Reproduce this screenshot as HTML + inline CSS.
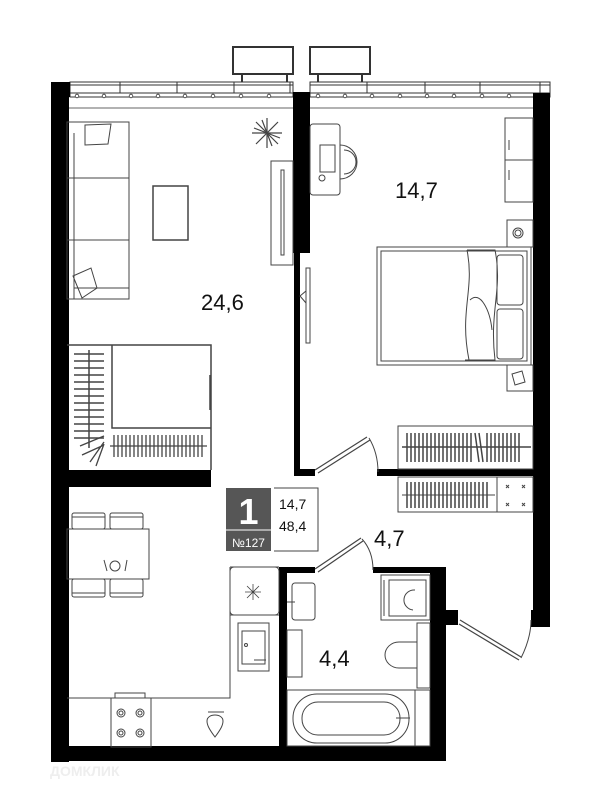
<!DOCTYPE html>
<html><head><meta charset="utf-8"><style>
html,body{margin:0;padding:0;background:#fff;}
svg{display:block;}
text{font-family:"Liberation Sans",sans-serif;}
</style></head><body>
<svg width="600" height="795" viewBox="0 0 600 795" xmlns="http://www.w3.org/2000/svg">
<g fill="none" stroke="#333" stroke-width="1">
<!-- balconies -->
<rect x="233" y="47" width="60" height="27" stroke-width="2"/>
<rect x="310" y="47" width="60" height="27" stroke-width="2"/>
<path d="M242 74V82M287 74V82M318 74V82M362 74V82" stroke-width="2"/>
<!-- window strips -->
<rect x="70" y="82" width="223" height="15"/>
<rect x="310" y="82" width="240" height="15"/>
<path d="M70 85H293M310 85H550M70 93H293M310 93H550M120 82v11M177 82v11M234 82v11M290 82v11M367 82v11M425 82v11M480 82v11M540 82v11"/>
<path d="M67 108H293M310 108H533" stroke-width="0.8"/>
</g>
<g fill="#fff" stroke="#333" stroke-width="0.8">
<circle cx="77" cy="96" r="1.8"/><circle cx="104" cy="96" r="1.8"/><circle cx="131" cy="96" r="1.8"/><circle cx="158" cy="96" r="1.8"/><circle cx="185" cy="96" r="1.8"/><circle cx="213" cy="96" r="1.8"/><circle cx="241" cy="96" r="1.8"/><circle cx="269" cy="96" r="1.8"/>
<circle cx="318" cy="96" r="1.8"/><circle cx="345" cy="96" r="1.8"/><circle cx="372" cy="96" r="1.8"/><circle cx="400" cy="96" r="1.8"/><circle cx="427" cy="96" r="1.8"/><circle cx="454" cy="96" r="1.8"/><circle cx="482" cy="96" r="1.8"/><circle cx="509" cy="96" r="1.8"/>
</g>
<!-- walls -->
<g fill="#000">
<rect x="51" y="82" width="18" height="680"/>
<rect x="51" y="82" width="19" height="15"/>
<rect x="293" y="92" width="17" height="161"/>
<rect x="294" y="253" width="6" height="223"/>
<rect x="294" y="469" width="21" height="7"/>
<rect x="377" y="469" width="173" height="7"/>
<rect x="533" y="93" width="17" height="534"/>
<rect x="531" y="610" width="19" height="17"/>
<rect x="51" y="470" width="160" height="17"/>
<rect x="51" y="746" width="395" height="15"/>
<rect x="279" y="567" width="8" height="190"/>
<rect x="279" y="567" width="36" height="6"/>
<rect x="373" y="567" width="64" height="6"/>
<rect x="430" y="567" width="16" height="194"/>
<rect x="430" y="610" width="28" height="15"/>
</g>
<g fill="none" stroke="#444" stroke-width="1">
<!-- living room -->
<rect x="67" y="122" width="62" height="177"/>
<path d="M74 133V299M67 178H129M67 240H129M74 288H129"/>
<path d="M85 125l26-1l-3 20l-23 1z"/>
<path d="M73 276l18-8l6 20l-15 10z"/>
<rect x="153" y="186" width="35" height="54" stroke-width="1.5"/>
<rect x="271" y="161" width="22" height="104"/>
<rect x="281" y="170" width="3" height="85"/>
<path d="M267 118v30M252 133h30M256 122l22 22M278 122l-22 22M262 120l10 26M254 128l26 10" stroke-width="1.2"/>
<!-- living wardrobe -->
<path d="M67 345H211V470M112 345V428H211M210 375V410" stroke-width="1.5"/>
<path d="M74 375H104M74 382H104M74 389H104M74 396H104M74 403H104M74 410H104M74 417H104M74 424H104M74 431H104M74 438H104M74 368H104M74 361H104M74 354H104M89 350V448" stroke-width="1.5"/>
<path d="M110 446H207M114 435v22M118 435v22M122 435v22M126 435v22M130 435v22M134 435v22M138 435v22M142 435v22M146 435v22M150 435v22M154 435v22M158 435v22M162 435v22M166 435v22M170 435v22M174 435v22M178 435v22M182 435v22M186 435v22M190 435v22M194 435v22M198 435v22M202 435v22M80 446l24-10M82 455l22-10M90 462l14-20M96 466l8-22" stroke-width="1.3"/>
<!-- bedroom -->
<rect x="310" y="124" width="30" height="71" rx="3"/>
<rect x="320" y="145" width="15" height="27"/>
<circle cx="322" cy="178" r="3"/>
<path d="M340 145a17 17 0 0 1 0 34M344 150a12 12 0 0 1 0 24"/>
<rect x="505" y="118" width="28" height="84"/>
<path d="M505 160h28M509 140v10M509 170v10"/>
<rect x="507" y="220" width="26" height="27"/><circle cx="518" cy="233" r="5"/><circle cx="518" cy="233" r="3"/>
<rect x="507" y="365" width="26" height="26"/><path d="M512 374l10-3l3 11l-10 3z"/>
<rect x="377" y="247" width="154" height="118"/>
<rect x="381" y="251" width="146" height="110"/>
<path d="M467 250c8 40 -8 60 2 110" />
<path d="M467 250h28c8 40 -6 60 0 110h-30"/>
<rect x="497" y="255" width="26" height="50" rx="3"/><rect x="497" y="309" width="26" height="50" rx="3"/>
<path d="M470 300c10-10 20 10 22 30"/>
<rect x="306" y="268" width="4" height="75"/>
<path d="M300 296l6-5v12z"/>
<!-- bedroom wardrobe -->
<rect x="398" y="426" width="135" height="43"/>
<path d="M402 447H531" stroke-width="1.5"/>
<g stroke-width="1.5">
<path d="M407 433v29M411 433v29M415 433v29M419 433v29M423 433v29M427 433v29M431 433v29M435 433v29M439 433v29M443 433v29M447 433v29M451 433v29M455 433v29M459 433v29M463 433v29M467 433v29M471 433v29M475 433l4 29M479 433l4 29M487 433v29M491 433v29M495 433v29M499 433v29M503 433v29M507 433v29M511 433v29M515 433v29M519 433v29"/>
</g>
<!-- hall wardrobe -->
<rect x="398" y="477" width="135" height="35"/>
<path d="M497 477v35M402 495H495" />
<g stroke-width="1.5"><path d="M407 482v26M411 482v26M415 482v26M419 482v26M423 482v26M427 482v26M431 482v26M435 482v26M439 482v26M443 482v26M447 482v26M451 482v26M455 482v26M459 482v26M463 482v26M467 482v26M471 482v26M475 482v26M479 482v26M483 482v26M487 482v26"/></g>
<path d="M506 485l3 3M509 485l-3 3M522 485l3 3M525 485l-3 3M506 503l3 3M509 503l-3 3M522 503l3 3M525 503l-3 3"/>
<!-- doors -->
<path d="M315 470L367 437M318 473L370 440" stroke-width="1.2"/>
<path d="M369 438q9 15 9 34"/>
<path d="M315 569L361 538M318 572L363 541" stroke-width="1.2"/>
<path d="M362 539q11 12 11 31"/>
<path d="M460 620L521 657M459 624L519 660" stroke-width="1.2"/>
<path d="M521 658q10-20 10-38"/>
<!-- kitchen -->
<rect x="67" y="529" width="82" height="50"/>
<rect x="72" y="513" width="33" height="16" rx="2"/><rect x="110" y="513" width="33" height="16" rx="2"/>
<rect x="72" y="579" width="33" height="18" rx="2"/><rect x="110" y="579" width="33" height="18" rx="2"/>
<path d="M72 517h33M110 517h33M72 593h33M110 593h33"/>
<circle cx="115" cy="566" r="5"/><path d="M104 560l3 11M127 560l-2 11"/>
<path d="M67 698H230V567M230 567H279M230 615H279"/>
<rect x="230" y="567" width="49" height="48" rx="4"/>
<path d="M253 584v16M245 592h16M247 586l12 12M259 586l-12 12" stroke-width="0.8"/>
<rect x="238" y="623" width="31" height="48"/><rect x="242" y="631" width="23" height="33"/>
<circle cx="246" cy="645" r="1.5"/><path d="M254 660h12"/>
<rect x="111" y="698" width="40" height="49"/><rect x="115" y="693" width="30" height="5"/>
<circle cx="121" cy="713" r="4"/><circle cx="140" cy="713" r="4"/><circle cx="121" cy="733" r="4"/><circle cx="140" cy="733" r="4"/>
<circle cx="121" cy="713" r="2"/><circle cx="140" cy="713" r="2"/><circle cx="121" cy="733" r="2"/><circle cx="140" cy="733" r="2"/>
<path d="M208 712h16M215 737c-6-8-8-12-8-16 0-4 4-6 8-6s8 2 8 6c0 4-2 8-8 16z"/>
<!-- bathroom -->
<rect x="292" y="583" width="23" height="37" rx="3"/><path d="M287 602h8"/>
<rect x="381" y="575" width="49" height="45"/><rect x="389" y="580" width="37" height="36"/>
<path d="M384 580v36"/><path d="M415 590a9 9 0 1 0 -2 20"/>
<rect x="287" y="630" width="15" height="47"/>
<rect x="417" y="623" width="13" height="65"/>
<path d="M417 642h-18a14 13 0 0 0 0 26h18"/>
<rect x="287" y="690" width="143" height="56"/>
<rect x="293" y="694" width="116" height="49" rx="24"/>
<rect x="302" y="702" width="98" height="33" rx="16"/>
<path d="M396 718h14M415 690v56"/>
</g>
<!-- info box -->
<rect x="226" y="488" width="45" height="63" fill="#565656"/>
<path d="M226 530h45" stroke="#fff" stroke-width="1"/>
<text x="248.5" y="524" fill="#fff" font-size="36" font-weight="bold" text-anchor="middle">1</text>
<text x="248.5" y="547" fill="#fff" font-size="12" text-anchor="middle">№127</text>
<path d="M274 488H318V551H274" fill="none" stroke="#444" stroke-width="1"/>
<text x="279" y="509" font-size="14" fill="#111">14,7</text>
<text x="279" y="531" font-size="14" fill="#111">48,4</text>
<!-- labels -->
<text x="201" y="310" font-size="22" fill="#111">24,6</text>
<text x="395" y="198" font-size="22" fill="#111">14,7</text>
<text x="374" y="546" font-size="22" fill="#111">4,7</text>
<text x="319" y="666" font-size="22" fill="#111">4,4</text>
<text x="50" y="776" font-size="14" font-weight="bold" fill="#eee">ДОМКЛИК</text>
</svg>
</body></html>
